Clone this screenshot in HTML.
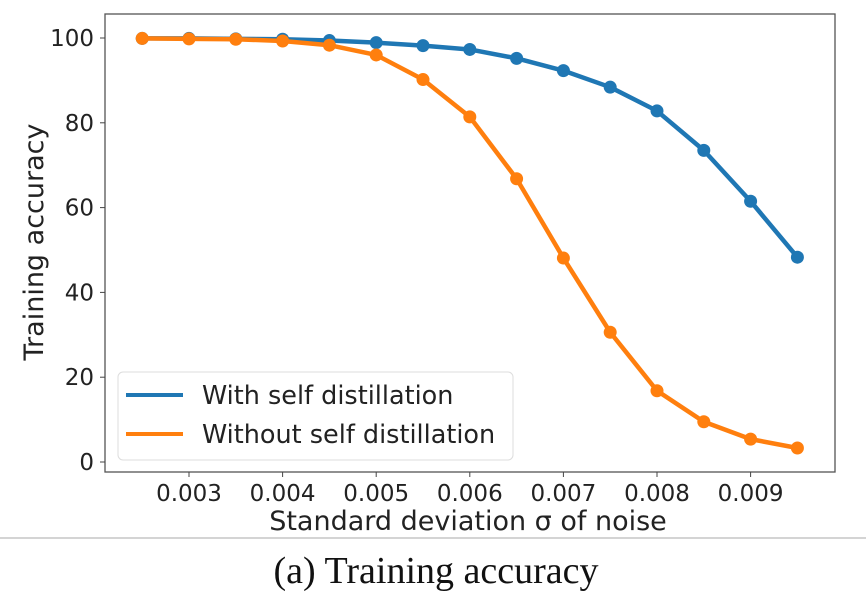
<!DOCTYPE html>
<html><head><meta charset="utf-8"><style>
body{margin:0;background:#fff;}
svg text{font-family:"DejaVu Sans","Liberation Sans",sans-serif;fill:#222;}
</style></head><body>
<svg id="chart" width="866" height="598" xmlns="http://www.w3.org/2000/svg">
<rect x="105" y="14" width="730" height="458" fill="#fff" stroke="#555" stroke-width="1.3"/>
<g id="ticks"></g>
<g id="series"></g>
<text x="0" y="0" font-size="27" text-anchor="middle" transform="translate(43,242) rotate(-90)">Training accuracy</text>
<text x="468" y="530" font-size="27" text-anchor="middle">Standard deviation σ of noise</text>
<g>
<rect x="118" y="372" width="395" height="88" rx="5" fill="#fff" fill-opacity="0.85" stroke="#ddd"/>
<line x1="126" y1="395" x2="183" y2="395" stroke="#1f77b4" stroke-width="4"/>
<text x="202" y="404" font-size="25.5">With self distillation</text>
<line x1="126" y1="434" x2="183" y2="434" stroke="#ff7f0e" stroke-width="4"/>
<text x="202" y="443" font-size="25.5">Without self distillation</text>
</g>
<line x1="0" y1="538" x2="866" y2="538" stroke="#aaa" stroke-width="1"/>
<text x="436" y="583" font-size="38" text-anchor="middle" style="font-family:'Liberation Serif',serif;fill:#111">(a) Training accuracy</text>
</svg>
<script>
const sigmas=[0.0025,0.003,0.0035,0.004,0.0045,0.005,0.0055,0.006,0.0065,0.007,0.0075,0.008,0.0085,0.009,0.0095];
const withSD=[99.9,99.9,99.8,99.7,99.4,98.9,98.2,97.3,95.2,92.3,88.4,82.8,73.5,61.5,48.3];
const withoutSD=[99.9,99.8,99.7,99.3,98.3,96.0,90.2,81.4,66.8,48.1,30.6,16.8,9.5,5.4,3.3];
const xTicks=[0.003,0.004,0.005,0.006,0.007,0.008,0.009];
const yTicks=[0,20,40,60,80,100];
const NS='http://www.w3.org/2000/svg';
const xs=v=>189+(v-0.003)*93600;
const ys=v=>462-v*4.24;
function mk(t,a,p){const e=document.createElementNS(NS,t);for(const k in a)e.setAttribute(k,a[k]);p.appendChild(e);return e;}
const tg=document.getElementById('ticks');
xTicks.forEach(t=>{
  const l=mk('line',{x1:xs(t),x2:xs(t),y1:472,y2:477,stroke:'#444'},tg);
  
  
  const tx=mk('text',{x:xs(t),y:501,'font-size':23,'text-anchor':'middle'},tg);
  tx.textContent=t.toFixed(3);
  
  
});
yTicks.forEach(t=>{
  const l=mk('line',{x1:100,x2:105,y1:ys(t),y2:ys(t),stroke:'#444'},tg);
  
  
  const tx=mk('text',{x:94,y:ys(t)+8,'font-size':23,'text-anchor':'end'},tg);
  tx.textContent=t;
  
  
});
const sg=document.getElementById('series');
[[withSD,'#1f77b4','with'],[withoutSD,'#ff7f0e','without']].forEach(([d,c,n])=>{
  const pl=mk('polyline',{points:d.map((v,i)=>xs(sigmas[i])+','+ys(v)).join(' '),fill:'none',stroke:c,'stroke-width':4.5,'stroke-linejoin':'round'},sg);
  
  
  d.forEach((v,i)=>{
    const p=mk('circle',{cx:xs(sigmas[i]),cy:ys(v),r:6.5,fill:c},sg);
    
    
  });
});
</script>
</body></html>
